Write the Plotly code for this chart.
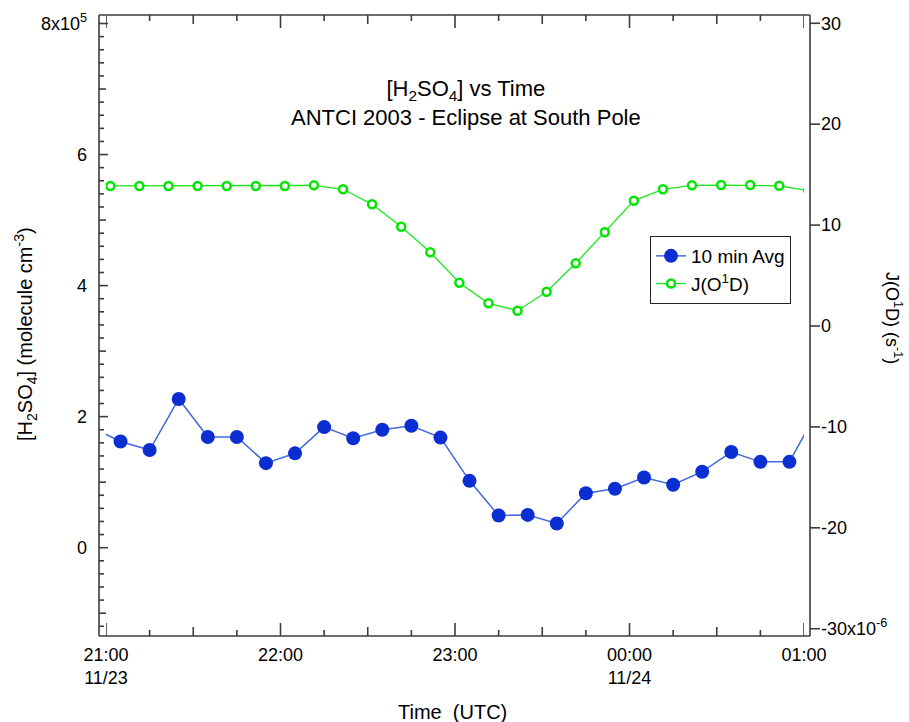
import plotly.graph_objects as go
import pandas as pd

# ---------------- data ----------------
avg_times = ["2003-11-23 20:55", "2003-11-23 21:05", "2003-11-23 21:15", "2003-11-23 21:25",
             "2003-11-23 21:35", "2003-11-23 21:45", "2003-11-23 21:55", "2003-11-23 22:05",
             "2003-11-23 22:15", "2003-11-23 22:25", "2003-11-23 22:35", "2003-11-23 22:45",
             "2003-11-23 22:55", "2003-11-23 23:05", "2003-11-23 23:15", "2003-11-23 23:25",
             "2003-11-23 23:35", "2003-11-23 23:45", "2003-11-23 23:55", "2003-11-24 00:05",
             "2003-11-24 00:15", "2003-11-24 00:25", "2003-11-24 00:35", "2003-11-24 00:45",
             "2003-11-24 00:55", "2003-11-24 01:05"]
h2so4_e5 = [1.84, 1.62, 1.49, 2.27, 1.69, 1.69, 1.29, 1.44, 1.84, 1.67, 1.80, 1.86, 1.68,
            1.02, 0.49, 0.50, 0.37, 0.83, 0.90, 1.07, 0.96, 1.16, 1.46, 1.31, 1.31, 2.12]

j_times = ["2003-11-23 20:51:30", "2003-11-23 21:01:30", "2003-11-23 21:11:30", "2003-11-23 21:21:30",
           "2003-11-23 21:31:30", "2003-11-23 21:41:30", "2003-11-23 21:51:30", "2003-11-23 22:01:30",
           "2003-11-23 22:11:30", "2003-11-23 22:21:30", "2003-11-23 22:31:30", "2003-11-23 22:41:30",
           "2003-11-23 22:51:30", "2003-11-23 23:01:30", "2003-11-23 23:11:30", "2003-11-23 23:21:30",
           "2003-11-23 23:31:30", "2003-11-23 23:41:30", "2003-11-23 23:51:30", "2003-11-24 00:01:30",
           "2003-11-24 00:11:30", "2003-11-24 00:21:30", "2003-11-24 00:31:30", "2003-11-24 00:41:30",
           "2003-11-24 00:51:30", "2003-11-24 01:01:30"]
jo1d_e6 = [13.87, 13.87, 13.87, 13.87, 13.87, 13.87, 13.87, 13.87, 13.94, 13.55, 12.06, 9.84,
           7.30, 4.29, 2.25, 1.52, 3.40, 6.21, 9.29, 12.42, 13.55, 13.94, 13.97, 13.97, 13.90, 13.42]

x_tickvals = ["2003-11-23 21:00", "2003-11-23 22:00", "2003-11-23 23:00",
              "2003-11-24 00:00", "2003-11-24 01:00"]
x_ticktext = ["21:00<br>11/23", "22:00", "23:00", "00:00<br>11/24", "01:00"]

y_tickvals = [0, 2e5, 4e5, 6e5, 8e5]
y_ticktext = ["0", "2", "4", "6", "8x10<sup>5</sup>"]

y2_tickvals_e6 = [-30, -20, -10, 0, 10, 20, 30]
y2_ticktext = ["-30x10<sup>-6</sup>", "-20", "-10", "0", "10", "20", "30"]

# --------------- figure ---------------
FONT = "Liberation Sans, Arial, sans-serif"
AX = "#3c3c3c"
W, H = 909, 722
L, R, T, B = 99, 89, 15, 86          # paper area 99..820 px, 15..636 px
pw, ph = W - L - R, H - T - B
AXL, AXR = 99, 810                   # pixel positions of the drawn left/right axes


def px(xpix):
    """pixel x -> paper fraction"""
    return (xpix - L) / pw


h2so4 = [v * 1e5 for v in h2so4_e5]
jo1d = [v * 1e-6 for v in jo1d_e6]

fig = go.Figure()
fig.add_trace(go.Scatter(
    x=avg_times, y=h2so4, name="10 min Avg", mode="lines+markers",
    line=dict(color="#4169dc", width=1.5),
    marker=dict(color="#0a2ed2", size=14, line=dict(width=0)),
    xaxis="x", yaxis="y"))
fig.add_trace(go.Scatter(
    x=j_times, y=jo1d, name="J(O<sup>1</sup>D)", mode="lines+markers",
    line=dict(color="#1ee61e", width=1.3),
    marker=dict(color="white", size=8, line=dict(color="#00e600", width=2.5)),
    xaxis="x", yaxis="y2"))

xr = ["2003-11-23 21:00", "2003-11-24 01:00"]
xdom = [px(106), px(804)]
yr = [-1.348e5, 8.13e5]
y2r = [-30.72e-6, 30.82e-6]

fig.update_layout(
    width=W, height=H,
    margin=dict(l=L, r=R, t=T, b=B, autoexpand=False),
    paper_bgcolor="white", plot_bgcolor="white",
    font=dict(family=FONT, size=18, color="black"),
    showlegend=True,
    legend=dict(x=px(650), y=(636 - 236) / ph, xanchor="left", yanchor="top",
                bgcolor="white", bordercolor="#222222", borderwidth=1,
                font=dict(family=FONT, size=19, color="black"),
                tracegroupgap=0),
    xaxis=dict(type="date", range=xr, domain=xdom, anchor="y", automargin=False,
               tickmode="array", tickvals=x_tickvals, ticktext=x_ticktext,
               ticks="", ticklabelstandoff=6,
               showline=False, showgrid=False, zeroline=False,
               tickfont=dict(family=FONT, size=18)),
    yaxis=dict(range=yr, domain=[0, 1], anchor="free", position=0, side="left", automargin=False,
               tickmode="array", tickvals=y_tickvals, ticktext=y_ticktext,
               ticks="", ticklabelstandoff=12,
               showline=False, showgrid=False, zeroline=False,
               tickfont=dict(family=FONT, size=18)),
    yaxis2=dict(range=y2r, overlaying="y", anchor="free", position=1, side="right", automargin=False,
                tickmode="array", tickvals=[v * 1e-6 for v in y2_tickvals_e6], ticktext=y2_ticktext,
                ticks="", showline=False, showgrid=False, zeroline=False,
                tickfont=dict(family=FONT, size=18)),
)

# frame lines (axes drawn with a small standoff from the data area)
frame = dict(color=AX, width=1.6)
xl, xrr = px(AXL), px(AXR)
for (x0, x1, y0, y1) in [(xl, xrr, 0, 0), (xl, xrr, 1, 1), (xl, xl, 0, 1), (xrr, xrr, 0, 1)]:
    fig.add_shape(type="line", xref="paper", yref="paper", x0=x0, x1=x1, y0=y0, y1=y1,
                  line=frame, layer="above")

tick_line = dict(color=AX, width=1.6)
# time-axis ticks: hour / half hour / quarter hour, bottom and mirrored on top
for t in pd.date_range(xr[0], xr[1], freq="15min"):
    ln = 13 if t.minute == 0 else (9 if t.minute == 30 else 6)
    ts = t.strftime("%Y-%m-%d %H:%M")
    fig.add_shape(type="line", xref="x", yref="paper", x0=ts, x1=ts, y0=0, y1=ln / ph,
                  line=tick_line, layer="above")
    fig.add_shape(type="line", xref="x", yref="paper", x0=ts, x1=ts, y0=1, y1=1 - ln / ph,
                  line=tick_line, layer="above")

# left axis ticks (inside): major 2e5, medium 1e5, minor 0.2e5
for k in range(-6, 41):
    v = k * 2e4
    ln = 9 if k % 10 == 0 else (7 if k % 5 == 0 else 5)
    yp = (v - yr[0]) / (yr[1] - yr[0])
    fig.add_shape(type="line", xref="paper", yref="paper", x0=xl, x1=px(AXL + ln), y0=yp, y1=yp,
                  line=tick_line, layer="above")

# right axis ticks (outside)
for v in y2_tickvals_e6:
    yp = (v * 1e-6 - y2r[0]) / (y2r[1] - y2r[0])
    fig.add_shape(type="line", xref="paper", yref="paper", x0=xrr, x1=px(AXR + 10), y0=yp, y1=yp,
                  line=tick_line, layer="above")

# titles
fig.add_annotation(text="[H<sub>2</sub>SO<sub>4</sub>] vs Time<br>ANTCI 2003 - Eclipse at South Pole",
                   xref="paper", yref="paper", x=px(466), y=(636 - 103) / ph,
                   xanchor="center", yanchor="middle", showarrow=False,
                   font=dict(family=FONT, size=22, color="black"))
fig.add_annotation(text="[H<sub>2</sub>SO<sub>4</sub>] (molecule cm<sup>-3</sup>)",
                   xref="paper", yref="paper", x=px(25), y=(636 - 334) / ph,
                   xanchor="center", yanchor="middle", textangle=-90, showarrow=False,
                   font=dict(family=FONT, size=20, color="black"))
fig.add_annotation(text="J(O<sup>1</sup>D) (s<sup>-1</sup>)",
                   xref="paper", yref="paper", x=px(893), y=(636 - 318) / ph,
                   xanchor="center", yanchor="middle", textangle=90, showarrow=False,
                   font=dict(family=FONT, size=18, color="black"))
fig.add_annotation(text="Time  (UTC)",
                   xref="paper", yref="paper", x=px(452), y=(636 - 712) / ph,
                   xanchor="center", yanchor="middle", showarrow=False,
                   font=dict(family=FONT, size=20, color="black"))

fig.write_html("out.html")
